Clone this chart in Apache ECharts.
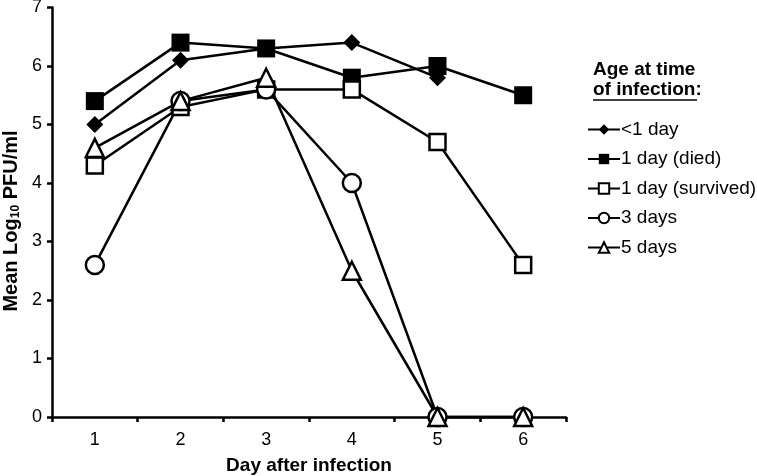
<!DOCTYPE html>
<html>
<head>
<meta charset="utf-8">
<script src="https://cdn.jsdelivr.net/npm/echarts@6/dist/echarts.min.js"></script>
<style>
  html, body { margin: 0; padding: 0; background: #fff; }
  #chart { width: 757px; height: 476px; }
</style>
</head>
<body>
<div id="chart"></div>
<script>
// days after infection
var days = ['1', '2', '3', '4', '5', '6'];
// mean log10 PFU/ml per group
var lessThan1Day = [5.0, 6.1, 6.3, 6.4, 5.8, null];
var oneDayDied = [5.4, 6.4, 6.3, 5.8, 6.0, 5.5];
var oneDaySurvived = [4.3, 5.3, 5.6, 5.6, 4.7, 2.6];
var threeDays = [2.6, 5.4, 5.6, 4.0, 0, 0];
var fiveDays = [4.6, 5.4, 5.8, 2.5, 0, 0];

var font = 'Liberation Sans, Arial, sans-serif';

var myChart = echarts.init(document.getElementById('chart'));

// common look for a line series
function mkSeries(name, data, symbol, size, filled) {
  return {
    name: name,
    type: 'line',
    data: data,
    symbol: symbol,
    symbolSize: size,
    showAllSymbol: true,
    clip: false,
    lineStyle: { color: '#000', width: 2.5 },
    itemStyle: {
      color: filled ? '#000' : '#fff',
      borderColor: '#000',
      borderWidth: filled ? 0 : 2.5
    },
    emphasis: { disabled: true }
  };
}

var option = {
  backgroundColor: '#fff',
  animation: false,
  textStyle: { fontFamily: font },
  title: {
    text: 'Age at time\nof infection:',
    left: 588,
    top: 55,
    textStyle: { fontFamily: font, fontSize: 19, fontWeight: 'bold', color: '#000', lineHeight: 20 }
  },
  graphic: [
    {
      // underline under "of infection"
      type: 'line',
      shape: { x1: 593, y1: 100, x2: 697, y2: 100 },
      style: { stroke: '#000', lineWidth: 1.5 }
    },
    {
      // y axis title
      type: 'text',
      x: 11,
      y: 221,
      rotation: Math.PI / 2,
      style: {
        text: 'Mean Log{sub|10} PFU/ml',
        fontFamily: font, fontSize: 20, fontWeight: 'bold', fill: '#000',
        align: 'center', verticalAlign: 'middle',
        rich: { sub: { fontFamily: font, fontSize: 12, fontWeight: 'bold', fill: '#000', padding: [9, 0, 0, 0] } }
      }
    },
    {
      // x axis title
      type: 'text',
      x: 309,
      y: 466,
      style: {
        text: 'Day after infection',
        fontFamily: font, fontSize: 19, fontWeight: 'bold', fill: '#000',
        align: 'center', verticalAlign: 'middle'
      }
    }
  ],
  legend: {
    orient: 'vertical',
    left: 582,
    top: 115,
    itemGap: 10.5,
    itemWidth: 32,
    itemHeight: 13,
    textStyle: { fontFamily: font, fontSize: 19, color: '#000', padding: [0, 0, 0, -4] },
    data: ['<1 day', '1 day (died)', '1 day (survived)', '3 days', '5 days']
  },
  grid: { left: 52, right: 191, top: 7.5, bottom: 59, containLabel: false, outerBoundsMode: 'none' },
  xAxis: {
    type: 'category',
    data: days,
    boundaryGap: true,
    axisLine: { lineStyle: { color: '#000', width: 2.5 } },
    axisTick: { show: true, inside: false, length: 5, lineStyle: { color: '#000', width: 2.5 } },
    axisLabel: { fontFamily: font, fontSize: 18, color: '#000', margin: 14 },
    splitLine: { show: false }
  },
  yAxis: {
    type: 'value',
    min: 0,
    max: 7,
    interval: 1,
    axisLine: { show: true, lineStyle: { color: '#000', width: 2.5 } },
    axisTick: { show: true, inside: false, length: 5, lineStyle: { color: '#000', width: 2.5 } },
    axisLabel: { fontFamily: font, fontSize: 18, color: '#000', margin: 10 },
    splitLine: { show: false }
  },
  series: [
    mkSeries('<1 day', lessThan1Day, 'diamond', 17, true),
    mkSeries('1 day (died)', oneDayDied, 'rect', 18, true),
    mkSeries('1 day (survived)', oneDaySurvived, 'rect', 16, false),
    mkSeries('3 days', threeDays, 'circle', 18, false),
    mkSeries('5 days', fiveDays, 'triangle', 18, false)
  ]
};

myChart.setOption(option);
</script>
</body>
</html>
